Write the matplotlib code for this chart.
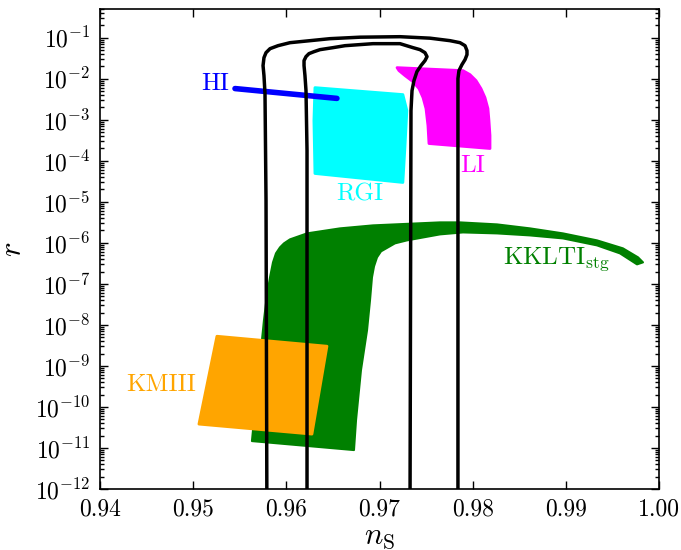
import numpy as np
import matplotlib
matplotlib.use("Agg")
import matplotlib.pyplot as plt
from matplotlib.ticker import LogLocator, NullLocator, FixedLocator, NullFormatter

plt.rcParams["font.family"] = "serif"
plt.rcParams["font.serif"] = ["cmr10"]
plt.rcParams["mathtext.fontset"] = "cm"
plt.rcParams["axes.formatter.use_mathtext"] = True

# =========================
# data (n_s, log10 r)
# =========================

# Planck-like contours (outer = 95%, inner = 68%)
outer_ns = [0.95792, 0.95782, 0.95771, 0.95760, 0.95750, 0.95760, 0.95782, 0.95825,
            0.95911, 0.96039, 0.96254, 0.96469, 0.96791, 0.97220, 0.97542, 0.97757,
            0.97864, 0.97918, 0.97939, 0.97939, 0.97918, 0.97885, 0.97853, 0.97842,
            0.97842, 0.97842]
outer_logr = [-13, -4.967, -2.363, -1.925, -1.681, -1.487, -1.365, -1.268,
              -1.195, -1.122, -1.073, -1.024, -0.988, -0.976, -1.012, -1.073,
              -1.122, -1.195, -1.316, -1.414, -1.535, -1.657, -1.803, -1.998,
              -2.290, -13]

inner_ns = [0.96222, 0.96222, 0.96211, 0.96200, 0.96190, 0.96190, 0.96211, 0.96243,
            0.96297, 0.96361, 0.96501, 0.96630, 0.96930, 0.97220, 0.97359, 0.97435,
            0.97488, 0.97510, 0.97488, 0.97445, 0.97402, 0.97370, 0.97349, 0.97338,
            0.97327]
inner_logr = [-13, -3.750, -2.290, -1.925, -1.681, -1.560, -1.462, -1.389,
              -1.341, -1.292, -1.243, -1.195, -1.146, -1.146, -1.243, -1.292,
              -1.365, -1.462, -1.560, -1.681, -1.827, -2.046, -2.290, -2.777,
              -13]

# HI
hi_ns = [0.95449, 0.96543]
hi_logr = [-2.24, -2.48]

# RGI
rgi_ns = [0.96307, 0.97251, 0.97294, 0.97273, 0.97251, 0.96307, 0.96296]
rgi_logr = [-2.217, -2.387, -2.777, -3.677, -4.529, -4.310, -3.02]

# LI
li_ns = [0.97188, 0.97896, 0.97971, 0.98036, 0.98089, 0.98132, 0.98164, 0.98175,
         0.98186, 0.98186, 0.97531, 0.97520, 0.97499, 0.97467, 0.97424, 0.97359,
         0.97274, 0.97209]
li_logr = [-1.730, -1.803, -1.900, -2.046, -2.241, -2.460, -2.728, -3.020,
           -3.385, -3.701, -3.580, -3.142, -2.728, -2.460, -2.241, -2.071,
           -1.925, -1.803]

# KMIII
kmiii_ns = [0.95255, 0.96436, 0.96275, 0.95062]
kmiii_logr = [-8.277, -8.520, -10.662, -10.418]

# KKLTI_stg
kk_ns = [0.95631, 0.95674, 0.95717, 0.95760, 0.95792, 0.95825, 0.95857, 0.95889,
         0.95932, 0.95975, 0.96039, 0.96222, 0.96576, 0.96930, 0.97649, 0.97864,
         0.98261, 0.98615, 0.98969, 0.99334, 0.99613, 0.99775, 0.99828, 0.99764,
         0.99581, 0.99334, 0.98969, 0.98615, 0.98261, 0.97896, 0.97649, 0.97295,
         0.97166, 0.97016, 0.96973, 0.96941, 0.96919, 0.96898, 0.96866, 0.96801,
         0.96748, 0.96726]
kk_logr = [-10.832, -9.834, -8.861, -7.887, -7.279, -6.841, -6.476, -6.257,
           -6.111, -6.013, -5.916, -5.770, -5.648, -5.575, -5.502, -5.502,
           -5.551, -5.648, -5.770, -5.940, -6.135, -6.354, -6.476, -6.525,
           -6.257, -6.062, -5.892, -5.819, -5.770, -5.746, -5.794, -5.940,
           -6.013, -6.208, -6.354, -6.573, -6.841, -7.401, -8.131, -9.104,
           -10.321, -11.051]

# labels (text, n_s, log10 r, colour, ha)
labels = [
    ("HI", 0.95385, -2.12, "blue", "right"),
    ("RGI", 0.96790, -4.82, "cyan", "center"),
    ("LI", 0.98003, -4.115, "magenta", "center"),
    ("KMIII", 0.94655, -9.469, "orange", "center"),
    (r"KKLTI$_{\rm stg}$", 0.98325, -6.40, "green", "left"),
]


def r_of(logr):
    return 10.0 ** np.asarray(logr)


# =========================
# plot
# =========================

fig = plt.figure(figsize=(6.81, 5.5), dpi=100)
ax = fig.add_axes([100 / 681, 1 - 489 / 550, 559 / 681, 480 / 550])
ax.set_yscale("log")

ax.fill(kk_ns, r_of(kk_logr), color="green", lw=1.5, joinstyle="round", zorder=2)
ax.fill(kmiii_ns, r_of(kmiii_logr), color="orange", lw=2, joinstyle="round", zorder=3)
ax.fill(rgi_ns, r_of(rgi_logr), color="cyan", lw=2, joinstyle="round", zorder=3)
ax.fill(li_ns, r_of(li_logr), color="magenta", lw=2, joinstyle="round", zorder=3)
ax.plot(hi_ns, r_of(hi_logr), color="blue", lw=4, solid_capstyle="round", zorder=4)

ax.plot(outer_ns, r_of(outer_logr), color="black", lw=2.5, solid_joinstyle="round", zorder=5)
ax.plot(inner_ns, r_of(inner_logr), color="black", lw=2.5, solid_joinstyle="round", zorder=5)

for txt, x, lr, c, ha in labels:
    ax.text(x, 10 ** lr, txt, color=c, fontsize=18, ha=ha, va="center", zorder=6)

ax.set_xlim(0.94, 1.00)
ax.set_ylim(1e-12, 0.5)

ax.xaxis.set_major_locator(FixedLocator([0.94, 0.95, 0.96, 0.97, 0.98, 0.99, 1.00]))
ax.xaxis.set_minor_locator(NullLocator())
ax.set_xticklabels(["0.94", "0.95", "0.96", "0.97", "0.98", "0.99", "1.00"])
ax.yaxis.set_major_locator(LogLocator(base=10, numticks=30))
ax.yaxis.set_minor_locator(LogLocator(base=10, subs=np.arange(2, 10), numticks=30))
ax.yaxis.set_minor_formatter(NullFormatter())

ax.tick_params(which="both", direction="in", top=True, right=True, labelsize=17, width=1)
ax.tick_params(which="major", length=6, pad=7)
ax.tick_params(which="minor", length=3)
for s in ax.spines.values():
    s.set_linewidth(1.2)

ax.set_xlabel(r"$n_{\rm S}$", fontsize=22, labelpad=2)
ax.set_ylabel(r"$r$", fontsize=22, labelpad=6)

fig.savefig("out.png", dpi=100)
